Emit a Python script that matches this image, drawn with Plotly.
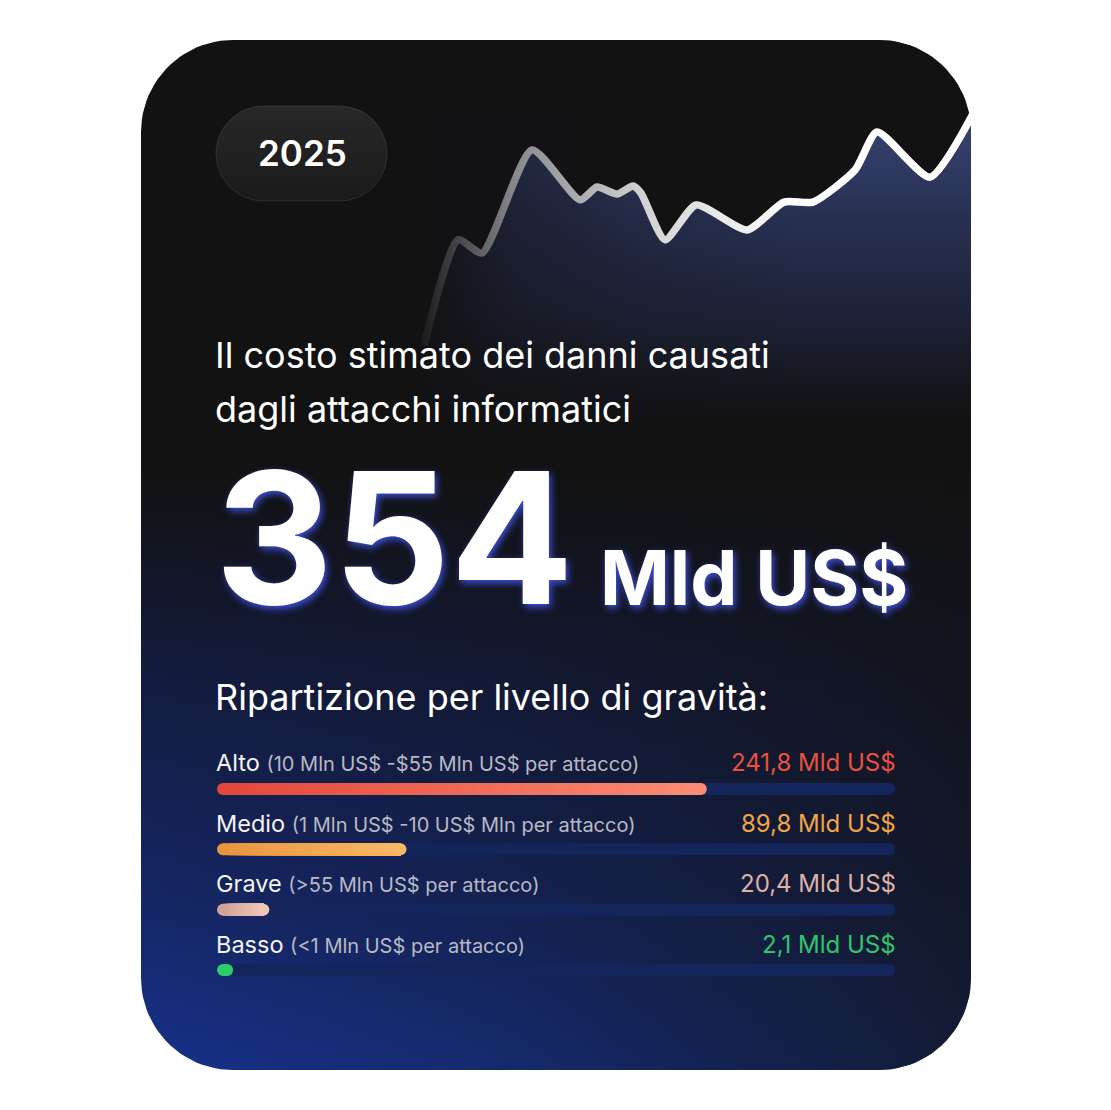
import numpy as np
import plotly.graph_objects as go

W, H = 1111, 1110

year_label = "2025"
total_cost = 354
total_unit = "Mld US$"

# trend line behind the headline (arbitrary index units)
trend_x = [0.4, 3.8, 6.2, 11.2, 16.0, 17.7, 19.7, 21.3, 22.1, 24.5, 27.6, 32.7, 36.4, 39.3, 43.5, 45.7, 51.0, 55.5]
trend_y = [23.4, 56.3, 52.2, 84.4, 68.8, 72.8, 70.6, 73.1, 70.9, 56.3, 67.2, 59.4, 68.1, 68.1, 78.1, 90.0, 75.9, 96.9]

levels = ["Alto", "Medio", "Grave", "Basso"]
level_ranges = [
    "(10 Mln US$ -$55 Mln US$ per attacco)",
    "(1 Mln US$ -10 US$ Mln per attacco)",
    "(>55 Mln US$ per attacco)",
    "(<1 Mln US$ per attacco)",
]
level_values = [241.8, 89.8, 20.4, 2.1]
level_colors = [("#e3473b", "#fb8c73"), ("#e8963e", "#f9b866"),
                ("#d2a297", "#f0c7b4"), ("#2ecc6a", "#2ecc6a")]
value_colors = ["#ea513f", "#f0a548", "#dcb3a5", "#31c66b"]

BAR_MAX = 337
TRACK_COLOR = "#14255c"
CAP_PX = 6
FONT = "Inter, 'Noto Sans', sans-serif"


def rounded_rect(x0, y0, x1, y1, r, n=24):
    xs, ys = [], []
    corners = [(x1 - r, y0 + r, -90, 0), (x1 - r, y1 - r, 0, 90),
               (x0 + r, y1 - r, 90, 180), (x0 + r, y0 + r, 180, 270)]
    for cx, cy, a0, a1 in corners:
        t = np.radians(np.linspace(a0, a1, n))
        xs += list(cx + r * np.cos(t))
        ys += list(cy + r * np.sin(t))
    return xs + xs[:1], ys + ys[:1]


def mix(c0, c1, t):
    a = [int(c0[i:i + 2], 16) for i in (1, 3, 5)]
    b = [int(c1[i:i + 2], 16) for i in (1, 3, 5)]
    return "rgb(%d,%d,%d)" % tuple(round(a[i] + (b[i] - a[i]) * t) for i in range(3))


fig = go.Figure()

# card background
cx, cy = rounded_rect(141, 40, 971, 1070, 92)
fig.add_trace(go.Scatter(
    x=cx, y=cy, fill="toself", mode="lines", line=dict(width=0), hoverinfo="skip",
    fillgradient=dict(type="vertical", start=40, stop=1070,
                      colorscale=[[0, "#121212"], [0.42, "#121212"], [0.62, "#131b3e"],
                                  [0.85, "#152768"], [1, "#16318a"]]),
    xaxis="x", yaxis="y"))
fig.add_trace(go.Scatter(
    x=cx, y=cy, fill="toself", mode="lines", line=dict(width=0), hoverinfo="skip",
    fillgradient=dict(type="horizontal", start=141, stop=971,
                      colorscale=[[0, "rgba(18,18,18,0)"], [0.45, "rgba(18,18,18,0.25)"],
                                  [1, "rgba(18,18,18,0.72)"]]),
    xaxis="x", yaxis="y"))

# year badge
bx, by = rounded_rect(216, 106, 387, 201, 47.5)
fig.add_trace(go.Scatter(
    x=bx, y=by, fill="toself", mode="lines", line=dict(width=1, color="rgba(255,255,255,0.10)"),
    hoverinfo="skip",
    fillgradient=dict(type="vertical", start=106, stop=201,
                      colorscale=[[0, "#282828"], [1, "#1a1a1a"]]),
    xaxis="x", yaxis="y"))

# trend area + line
fig.add_trace(go.Scatter(
    x=trend_x, y=trend_y, mode="lines", fill="tozeroy", line=dict(width=0, shape="spline", smoothing=0.6),
    hoverinfo="skip",
    fillgradient=dict(type="vertical", start=0, stop=100,
                      colorscale=[[0, "rgba(40,50,95,0)"], [0.35, "rgba(45,56,105,0.45)"],
                                  [1, "rgba(62,76,132,0.9)"]]),
    xaxis="x2", yaxis="y2"))
fig.add_trace(go.Scatter(
    x=trend_x, y=trend_y, mode="lines", line=dict(width=7.5, color="#ffffff", shape="spline", smoothing=0.6),
    hoverinfo="skip", xaxis="x2", yaxis="y2"))
# fade the left end of the trend into the card
fig.add_trace(go.Scatter(
    x=[-3, 40, 40, -3, -3], y=[-10, -10, 130, 130, -10], fill="toself", mode="lines",
    line=dict(width=0), hoverinfo="skip",
    fillgradient=dict(type="horizontal", start=0, stop=38,
                      colorscale=[[0, "rgba(18,18,20,0.97)"], [0.25, "rgba(18,18,22,0.5)"],
                                  [0.6, "rgba(18,18,24,0.18)"], [1, "rgba(18,18,24,0)"]]),
    xaxis="x2", yaxis="y2"))

# severity bars: track, gradient segments, round caps
fig.add_trace(go.Bar(
    y=levels, x=[BAR_MAX] * len(levels), base=[0] * len(levels), orientation="h", width=0.2,
    marker=dict(color=TRACK_COLOR, line=dict(width=0)), hoverinfo="skip",
    xaxis="x3", yaxis="y3"))

# each segment runs to the bar end, later ones on top -> no seams
N = 30
seg_y, seg_base, seg_len, seg_col = [], [], [], []
for name, v, (c0, c1) in zip(levels, level_values, level_colors):
    step = v / N
    for k in range(N):
        b = step * k
        seg_y.append(name)
        seg_base.append(b)
        seg_len.append(v - b)
        seg_col.append(mix(c0, c1, (k + 0.5) / N))
fig.add_trace(go.Bar(
    y=seg_y, x=seg_len, base=seg_base, orientation="h", width=0.2,
    marker=dict(color=seg_col, line=dict(width=0)), hoverinfo="skip",
    xaxis="x3", yaxis="y3"))

# right cap of the track; the coloured left cap covers the track's start
fig.add_trace(go.Scatter(
    x=[BAR_MAX] * len(levels), y=levels, mode="markers",
    marker=dict(size=2 * CAP_PX, color=TRACK_COLOR, line=dict(width=0)), hoverinfo="skip",
    cliponaxis=False, xaxis="x3", yaxis="y3"))
fig.add_trace(go.Scatter(
    x=[0] * len(levels) + level_values, y=levels + levels, mode="markers",
    marker=dict(size=2 * CAP_PX, color=[c[0] for c in level_colors] + [c[1] for c in level_colors],
                line=dict(width=0)), hoverinfo="skip",
    cliponaxis=False, xaxis="x3", yaxis="y3"))

# --- text ---
ann = []


def paper_text(text, px, py, size, weight=400, color="#ffffff", shadow=None, xanchor="left"):
    f = dict(family=FONT, size=size, color=color, weight=weight)
    if shadow:
        f["shadow"] = shadow
    ann.append(dict(text=text, x=px / W, y=1 - py / H, xref="paper", yref="paper",
                    xanchor=xanchor, yanchor="middle", showarrow=False, font=f))


paper_text(year_label, 302, 153, 35, weight=600, xanchor="center")
paper_text("Il costo stimato dei danni causati", 213, 355, 36)
paper_text("dagli attacchi informatici", 213, 409, 36)
glow = "2px 3px 7px rgba(70,90,255,0.85)"
paper_text(str(total_cost), 213, 538, 183, weight=700, shadow=glow)
paper_text(total_unit, 598, 577, 75, weight=700, shadow=glow)
paper_text("Ripartizione per livello di gravità:", 213, 697, 36)

for name, rng, v, col in zip(levels, level_ranges, level_values, value_colors):
    ann.append(dict(
        text=f"{name} <span style='font-size:20px;color:#b9b9c4'>{rng}</span>",
        x=0, y=name, xref="x3", yref="y3", xanchor="left", yanchor="middle",
        xshift=-CAP_PX - 3, yshift=26, showarrow=False,
        font=dict(family=FONT, size=23.5, color="#f4f4f6")))
    ann.append(dict(
        text=f"{v:.1f}".replace(".", ",") + " Mld US$",
        x=BAR_MAX, y=name, xref="x3", yref="y3", xanchor="right", yanchor="middle",
        xshift=CAP_PX + 3, yshift=26, showarrow=False,
        font=dict(family=FONT, size=24, color=col)))

hidden = dict(visible=False, fixedrange=True)
fig.update_layout(
    width=W, height=H, margin=dict(l=0, r=0, t=0, b=0),
    paper_bgcolor="#ffffff", plot_bgcolor="rgba(0,0,0,0)",
    showlegend=False, barmode="overlay", annotations=ann,
    xaxis=dict(range=[0, W], domain=[0, 1], **hidden),
    yaxis=dict(range=[H, 0], domain=[0, 1], **hidden),
    xaxis2=dict(range=[0, 55.1], domain=[420 / W, 971 / W], **hidden),
    yaxis2=dict(range=[0, 100], domain=[1 - 420 / H, 1 - 100 / H], **hidden),
    xaxis3=dict(range=[0, BAR_MAX], domain=[223 / W, 889 / W], **hidden),
    yaxis3=dict(type="category", categoryorder="array", categoryarray=levels,
                range=[len(levels) - 0.5, -0.5], domain=[1 - 1000.2 / H, 1 - 758.8 / H], **hidden),
)

fig.write_html("out.html", config={"displayModeBar": False},
               post_script="document.body.style.margin='0';document.body.style.overflow='hidden';")
